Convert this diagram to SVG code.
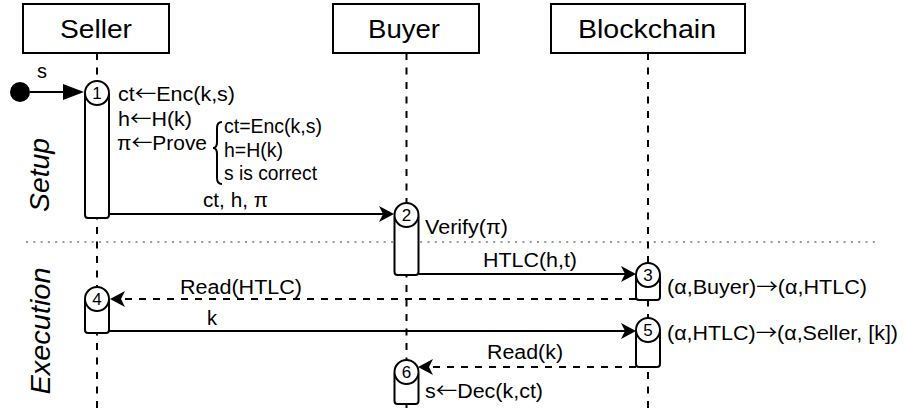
<svg xmlns="http://www.w3.org/2000/svg" width="904" height="414" viewBox="0 0 904 414">
  <style>
    text { font-family: "Liberation Sans", Arial, sans-serif; fill: #000; }
    .head { font-size: 26px; text-anchor: middle; }
    .lbl { font-size: 20px; }
    .ar { font-family: "Noto Sans CJK SC", "DejaVu Sans", sans-serif; }
    .num { font-size: 17px; text-anchor: middle; }
    .phase { font-size: 28px; font-style: italic; text-anchor: middle; }
    .box { fill: #fff; stroke: #000; stroke-width: 2; }
    .life { stroke: #000; stroke-width: 2; stroke-dasharray: 7 7.5; fill: none; }
    .bar { fill: #fff; stroke: #000; stroke-width: 2; }
    .msg { stroke: #000; stroke-width: 2; fill: none; }
    .dash { stroke-dasharray: 7 7; }
    .sep { stroke: #9a9a9a; stroke-width: 2; stroke-dasharray: 2 5.3; fill: none; }
  </style>
  <defs>
    <marker id="classic" markerUnits="userSpaceOnUse" markerWidth="16" markerHeight="18" refX="5" refY="8" orient="auto" overflow="visible">
      <path d="M0,0 L15,8 L0,16 L4,8 Z" fill="#000" stroke="none"/>
    </marker>
    <marker id="block" markerUnits="userSpaceOnUse" markerWidth="22" markerHeight="18" refX="2" refY="8" orient="auto" overflow="visible">
      <path d="M0,0 L21,8 L0,16 Z" fill="#000" stroke="none"/>
    </marker>
  </defs>

  <!-- phase separator and phase titles -->
  <line class="sep" x1="26" y1="242" x2="877" y2="242"/>
  <text class="phase" transform="translate(49,175) rotate(-90)" textLength="74" lengthAdjust="spacingAndGlyphs">Setup</text>
  <text class="phase" transform="translate(50,331) rotate(-90)" textLength="127" lengthAdjust="spacingAndGlyphs">Execution</text>

  <!-- lifelines -->
  <g id="lifelines">
    <line class="life" x1="97" y1="53" x2="97" y2="414"/>
    <line class="life" x1="406.5" y1="53" x2="406.5" y2="414"/>
    <line class="life" x1="648" y1="53" x2="648" y2="414"/>
  </g>

  <!-- participants -->
  <g id="seller">
    <rect class="box" x="23" y="4" width="146" height="49"/>
    <text class="head" x="96" y="38" textLength="72" lengthAdjust="spacingAndGlyphs">Seller</text>
  </g>
  <g id="buyer">
    <rect class="box" x="333" y="4" width="146" height="49"/>
    <text class="head" x="404" y="38" textLength="72" lengthAdjust="spacingAndGlyphs">Buyer</text>
  </g>
  <g id="blockchain">
    <rect class="box" x="551" y="4" width="194" height="49"/>
    <text class="head" x="647" y="38" textLength="138" lengthAdjust="spacingAndGlyphs">Blockchain</text>
  </g>

  <!-- connectors -->
  <g id="connectors">
    <circle cx="20" cy="92" r="10" fill="#000"/>
    <line class="msg" x1="30" y1="92" x2="65" y2="92" marker-end="url(#block)"/>
    <line class="msg" x1="109" y1="214" x2="384" y2="214" marker-end="url(#classic)"/>
    <line class="msg" x1="418.5" y1="274" x2="626" y2="274" marker-end="url(#classic)"/>
    <line class="msg dash" x1="636" y1="299" x2="120" y2="299" marker-end="url(#classic)"/>
    <line class="msg" x1="109" y1="331" x2="626" y2="331" marker-end="url(#classic)"/>
    <line class="msg dash" x1="636" y1="367" x2="428" y2="367" marker-end="url(#classic)"/>
  </g>

  <!-- activations -->
  <g id="step1">
    <rect class="bar" x="85" y="93" width="24" height="125" rx="3"/>
    <circle class="bar" cx="97" cy="93" r="12"/>
    <text class="num" x="97" y="99">1</text>
  </g>
  <g id="step2">
    <rect class="bar" x="394.5" y="215" width="24" height="60" rx="3"/>
    <circle class="bar" cx="406.5" cy="215" r="12"/>
    <text class="num" x="406.5" y="221">2</text>
  </g>
  <g id="step3">
    <rect class="bar" x="636" y="275" width="24" height="25" rx="3"/>
    <circle class="bar" cx="648" cy="275" r="12"/>
    <text class="num" x="648" y="281">3</text>
  </g>
  <g id="step4">
    <rect class="bar" x="85" y="299" width="24" height="34" rx="3"/>
    <circle class="bar" cx="97" cy="299" r="12"/>
    <text class="num" x="97" y="305">4</text>
  </g>
  <g id="step5">
    <rect class="bar" x="636" y="330" width="24" height="37" rx="3"/>
    <circle class="bar" cx="648" cy="330" r="12"/>
    <text class="num" x="648" y="336">5</text>
  </g>
  <g id="step6">
    <rect class="bar" x="394.5" y="372" width="24" height="32" rx="3"/>
    <circle class="bar" cx="406.5" cy="372" r="12"/>
    <text class="num" x="406.5" y="378">6</text>
  </g>

  <!-- message and step labels -->
  <g id="labels">
    <text class="lbl" x="37" y="78" font-size="22">s</text>
    <text class="lbl" x="118" y="101" textLength="117" lengthAdjust="spacingAndGlyphs">ct<tspan class="ar">←</tspan>Enc(k,s)</text>
    <text class="lbl" x="118" y="126" textLength="74" lengthAdjust="spacingAndGlyphs">h<tspan class="ar">←</tspan>H(k)</text>
    <text class="lbl" x="117" y="150" textLength="90" lengthAdjust="spacingAndGlyphs">π<tspan class="ar">←</tspan>Prove</text>
    <path d="M222,122 Q217,122 217,128 L217,142 Q217,148 213,148 Q217,148 217,154 L217,178 Q217,184 222,184" fill="none" stroke="#000" stroke-width="2"/>
    <text class="lbl" x="224" y="133" textLength="98" lengthAdjust="spacingAndGlyphs">ct=Enc(k,s)</text>
    <text class="lbl" x="224" y="157" textLength="59" lengthAdjust="spacingAndGlyphs">h=H(k)</text>
    <text class="lbl" x="224" y="180" textLength="93" lengthAdjust="spacingAndGlyphs">s is correct</text>
    <text class="lbl" x="203" y="207" textLength="65" lengthAdjust="spacingAndGlyphs">ct, h, π</text>
    <text class="lbl" x="425" y="234" textLength="83" lengthAdjust="spacingAndGlyphs">Verify(π)</text>
    <text class="lbl" x="483" y="267" textLength="94" lengthAdjust="spacingAndGlyphs">HTLC(h,t)</text>
    <text class="lbl" x="667" y="294" textLength="200" lengthAdjust="spacingAndGlyphs">(α,Buyer)<tspan class="ar">→</tspan>(α,HTLC)</text>
    <text class="lbl" x="180" y="294" textLength="122" lengthAdjust="spacingAndGlyphs">Read(HTLC)</text>
    <text class="lbl" x="207" y="325">k</text>
    <text class="lbl" x="667" y="340" textLength="231" lengthAdjust="spacingAndGlyphs">(α,HTLC)<tspan class="ar">→</tspan>(α,Seller, [k])</text>
    <text class="lbl" x="487" y="359" textLength="76" lengthAdjust="spacingAndGlyphs">Read(k)</text>
    <text class="lbl" x="425" y="398" textLength="118" lengthAdjust="spacingAndGlyphs">s<tspan class="ar">←</tspan>Dec(k,ct)</text>
  </g>
</svg>
